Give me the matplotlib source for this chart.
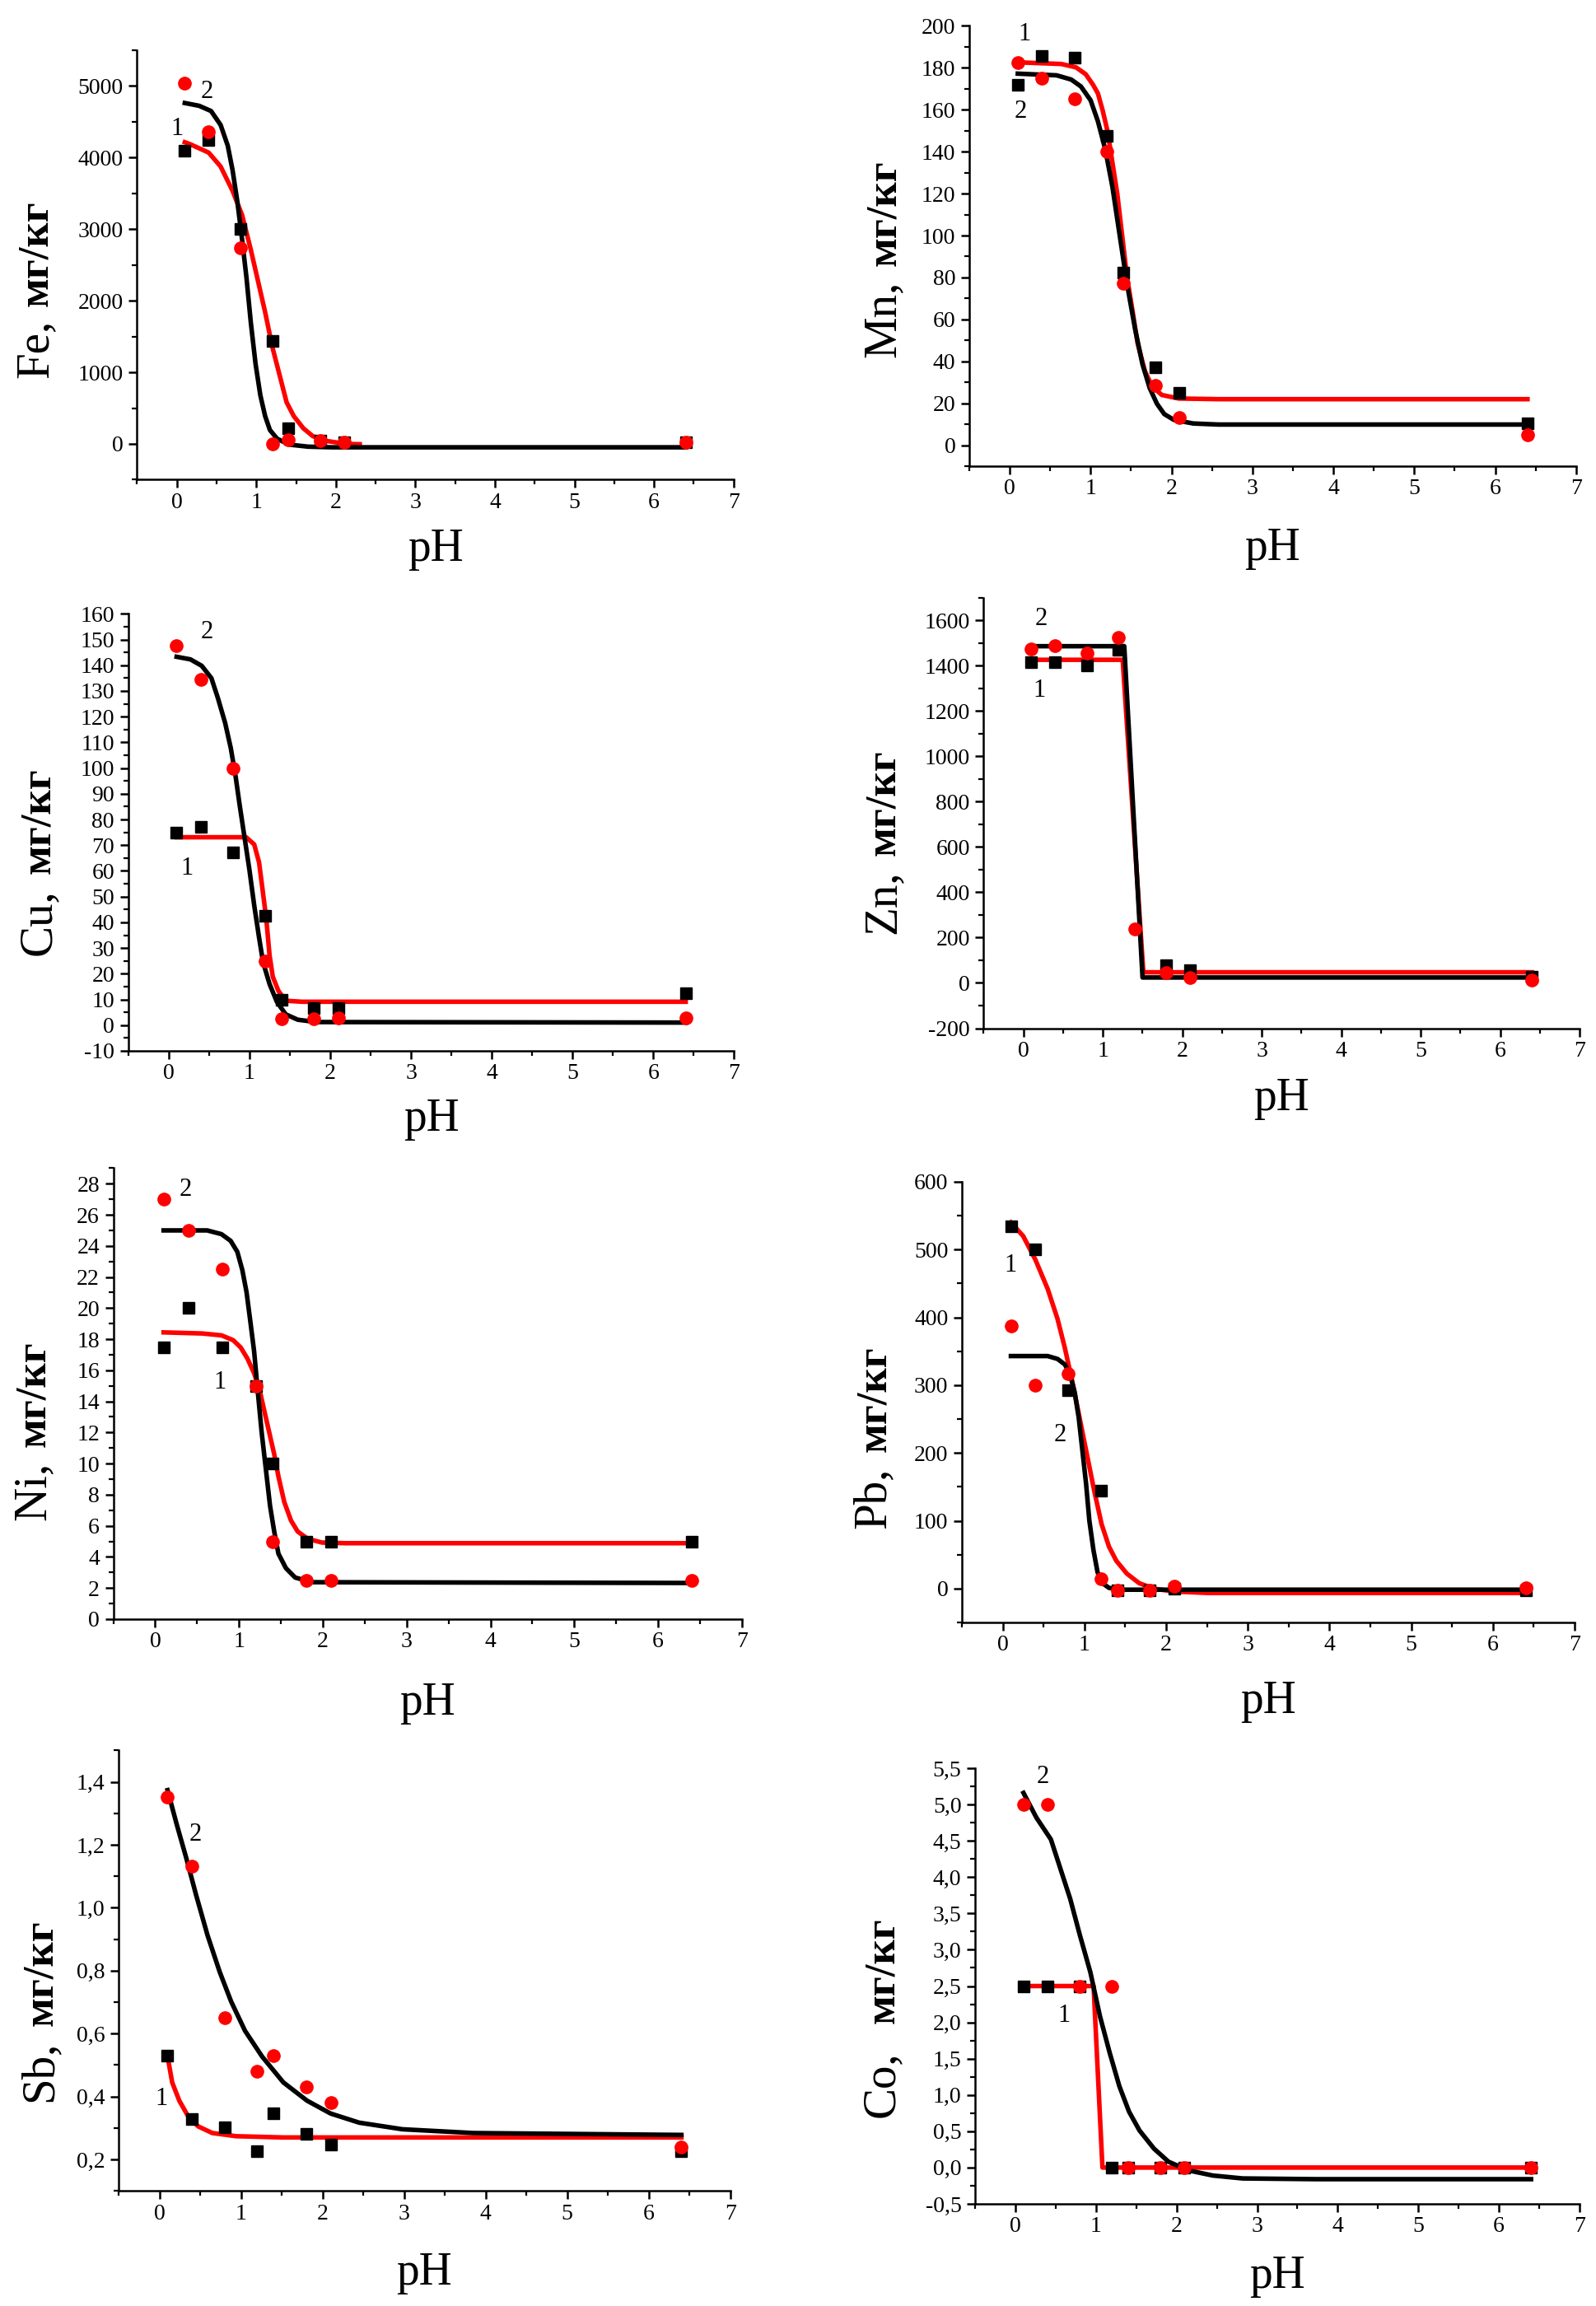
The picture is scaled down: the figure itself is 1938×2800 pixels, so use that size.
""" Metal content in soil vs pH, 8 panels (Fe, Mn, Cu, Zn, Ni, Pb, Sb, Co)
"""
import numpy as np
import matplotlib
matplotlib.use("Agg")
import matplotlib.pyplot as plt
from matplotlib.ticker import MultipleLocator, FuncFormatter
from matplotlib.transforms import offset_copy

plt.rcParams['font.family'] = ['Liberation Serif', 'DejaVu Serif']

# common pH values of the measured points
ph = [0.1, 0.4, 0.8, 1.2, 1.4, 1.8, 2.1, 6.4]

# ---- Fe ----
fe_1 = [4100, 4250, 3000, 1440, 220, 40, 25, 25]
fe_2 = [5040, 4360, 2740, 0, 60, 50, 25, 25]
fe_fit1_x = [0.1, 0.16, 0.40, 0.55, 0.70, 0.82, 0.93, 1.02, 1.11, 1.20, 1.29, 1.38, 1.47, 1.59, 1.71, 1.89, 2.13, 2.30]
fe_fit1_y = [4215, 4191, 4070, 3876, 3537, 3198, 2713, 2277, 1841, 1357, 969, 581, 388, 218, 107, 39, 0, -5]
fe_fit2_x = [0.1, 0.28, 0.43, 0.55, 0.64, 0.70, 0.76, 0.82, 0.875, 0.93, 0.99, 1.05, 1.11, 1.17, 1.26, 1.41, 1.65, 1.95, 6.4]
fe_fit2_y = [4763, 4724, 4651, 4457, 4167, 3828, 3391, 2858, 2326, 1696, 1114, 678, 388, 194, 73, -10, -39, -48, -48]

# ---- Mn ----
mn_1 = [172, 185.6, 184.8, 147.4, 82.3, 37.2, 25.1, 10.4]
mn_2 = [182.6, 174.9, 165, 140.2, 77.4, 28.6, 13.2, 5]
mn_fit1_x = [0.1, 0.64, 0.82, 0.94, 1.03, 1.09, 1.15, 1.21, 1.27, 1.33, 1.39, 1.45, 1.52, 1.58, 1.67, 1.76, 1.88, 2.09, 2.58, 6.4]
mn_fit1_y = [182.6, 181.8, 180.2, 176.9, 171.9, 167.8, 159.5, 149.6, 134.7, 119.8, 100, 80.2, 63.6, 48.8, 35.5, 28.1, 24, 22.3, 22, 22]
mn_fit2_x = [0.1, 0.58, 0.76, 0.88, 1.00, 1.09, 1.18, 1.27, 1.36, 1.45, 1.55, 1.64, 1.73, 1.82, 1.91, 2.03, 2.27, 2.58, 6.4]
mn_fit2_y = [177.2, 176.4, 174.4, 171.1, 164.5, 154.5, 141.3, 123.1, 100, 76.9, 55.4, 38.8, 27.3, 19.8, 14.9, 12.1, 10.4, 9.9, 9.9]

# ---- Cu ----
cu_1 = [74.9, 77.2, 67.2, 42.4, 9.7, 6.7, 6.7, 12.5]
cu_2 = [147.5, 134.6, 99.9, 25, 2.5, 2.5, 2.8, 2.8]
cu_fit1_x = [0.1, 0.96, 1.06, 1.12, 1.16, 1.21, 1.25, 1.29, 1.36, 1.45, 1.65, 6.4]
cu_fit1_y = [73.1, 73.1, 70.3, 63.3, 53.6, 41.1, 27.2, 18.8, 13.3, 9.5, 9.1, 9.1]
cu_fit2_x = [0.1, 0.27, 0.41, 0.53, 0.61, 0.70, 0.77, 0.83, 0.88, 0.94, 1.00, 1.06, 1.12, 1.17, 1.25, 1.34, 1.45, 1.60, 1.83, 6.4]
cu_fit2_y = [143.3, 142.3, 139.8, 135, 127.3, 117.6, 107.8, 96.7, 85.6, 73.1, 60.6, 46.6, 34.1, 24.4, 16, 9.1, 4.2, 2.1, 1.2, 1.0]

# ---- Zn ----
zn_1 = [1415, 1415, 1400, 1470, np.nan, 79, 55, 27]
zn_2 = [1474, 1490, 1455, 1526, 237, 47, 24, 11]
zn_fit1_x = [0.1, 1.25, 1.51, 6.4]
zn_fit1_y = [1426, 1426, 47, 47]
zn_fit2_x = [0.1, 1.27, 1.50, 6.4]
zn_fit2_y = [1486, 1486, 24, 24]

# ---- Ni ----
ni_1 = [17.5, 20, 17.5, 15, 10, 5, 5, 5]
ni_2 = [27, 25, 22.5, 15, 5, 2.5, 2.5, 2.5]
ni_fit1_x = [0.1, 0.56, 0.79, 0.93, 1.02, 1.10, 1.18, 1.25, 1.30, 1.36, 1.42, 1.47, 1.54, 1.62, 1.70, 1.82, 1.99, 2.27, 6.4]
ni_fit1_y = [18.44, 18.37, 18.25, 17.94, 17.47, 16.76, 15.81, 14.63, 13.44, 12.02, 10.60, 9.18, 7.53, 6.34, 5.63, 5.16, 4.92, 4.88, 4.88]
ni_fit2_x = [0.1, 0.62, 0.79, 0.90, 0.98, 1.04, 1.09, 1.13, 1.18, 1.22, 1.27, 1.32, 1.37, 1.42, 1.47, 1.56, 1.67, 1.87, 6.4]
ni_fit2_y = [25.0, 25.0, 24.76, 24.33, 23.62, 22.44, 21.02, 19.36, 17.23, 14.86, 12.02, 9.66, 7.29, 5.63, 4.21, 3.27, 2.67, 2.37, 2.32]

# ---- Pb ----
pb_1 = [534, 500, 293, 144, -3, -3, 0, -2]
pb_2 = [388, 300, 317, 15, -2, -3, 3, 1]
pb_fit1_x = [0.1, 0.25, 0.40, 0.55, 0.67, 0.76, 0.85, 0.94, 1.03, 1.12, 1.21, 1.30, 1.39, 1.52, 1.67, 1.85, 2.09, 2.52, 6.4]
pb_fit1_y = [540, 520, 485, 442, 398, 355, 306, 252, 198, 144, 95, 62, 41, 22, 8, 0, -4.3, -6.5, -6.5]
pb_fit2_x = [0.1, 0.55, 0.67, 0.76, 0.82, 0.88, 0.93, 0.97, 1.02, 1.06, 1.11, 1.16, 1.22, 1.30, 1.42, 6.4]
pb_fit2_y = [343, 343, 338.8, 330.6, 317, 290, 252, 208.7, 154.5, 100.3, 57, 24.4, 8.1, 1.1, -1.6, -1.6]

# ---- Sb ----
sb_1 = [0.529, 0.328, 0.303, 0.226, 0.348, 0.282, 0.247, 0.226]
sb_2 = [1.353, 1.131, 0.65, 0.48, 0.53, 0.43, 0.381, 0.239]
sb_fit1_x = [0.1, 0.157, 0.244, 0.36, 0.477, 0.65, 0.94, 1.52, 6.4]
sb_fit1_y = [0.529, 0.445, 0.387, 0.334, 0.305, 0.284, 0.274, 0.27, 0.27]
sb_fit2_x = [0.1, 0.215, 0.33, 0.45, 0.59, 0.74, 0.88, 1.05, 1.26, 1.52, 1.81, 2.10, 2.45, 2.98, 3.85, 6.4]
sb_fit2_y = [1.374, 1.263, 1.158, 1.041, 0.913, 0.796, 0.702, 0.609, 0.527, 0.445, 0.387, 0.346, 0.317, 0.296, 0.284, 0.278]

# ---- Co ----
co_1 = [2.5, 2.5, 2.5, 0, 0, 0, 0, 0]
co_2 = [5.0, 5.0, 2.5, 2.5, 0, 0, 0, 0]
co_fit1_x = [0.1, 0.97, 1.08, 6.4]
co_fit1_y = [2.5, 2.5, 0.0, 0.0]
co_fit2_x = [0.1, 0.26, 0.44, 0.56, 0.68, 0.80, 0.93, 1.05, 1.17, 1.29, 1.41, 1.54, 1.72, 1.90, 2.15, 2.45, 2.82, 3.73, 6.4]
co_fit2_y = [5.16, 4.82, 4.52, 4.11, 3.70, 3.20, 2.69, 2.08, 1.58, 1.12, 0.77, 0.51, 0.26, 0.08, -0.04, -0.11, -0.15, -0.16, -0.16]


def int_fmt(v, pos):
    return f"{v:.0f}"


def comma_fmt(v, pos):
    if abs(v) < 1e-9:
        v = 0.0
    return f"{v:.1f}".replace(".", ",")


# element, data, axes rect, ylim, major, minor, formatter,
# ylabel baseline offset (px), element end / unit start (data), pH label pad, curve labels
panels = [
    dict(el="Fe,", s1=fe_1, s2=fe_2, f1=(fe_fit1_x, fe_fit1_y), f2=(fe_fit2_x, fe_fit2_y),
         rect=[0.0859, 0.792, 0.3737, 0.1862], ylim=(-500, 5500), major=1000, minor=500,
         fmt=int_fmt, lab_dx=-109, split=(1740, 1920), xpad=13.5, l1=(0.0, 4400), l2=(0.38, 4920)),
    dict(el="Mn,", s1=mn_1, s2=mn_2, f1=(mn_fit1_x, mn_fit1_y), f2=(mn_fit2_x, mn_fit2_y),
         rect=[0.6073, 0.7978, 0.3802, 0.1910], ylim=(-10, 200), major=20, minor=10,
         fmt=int_fmt, lab_dx=-90, split=(78.5, 85.5), xpad=24, l1=(0.18, 196), l2=(0.13, 159)),
    dict(el="Cu,", s1=cu_1, s2=cu_2, f1=(cu_fit1_x, cu_fit1_y), f2=(cu_fit2_x, cu_fit2_y),
         rect=[0.0803, 0.5443, 0.3797, 0.1895], ylim=(-10, 160), major=10, minor=5,
         fmt=int_fmt, lab_dx=-95, split=(53, 59), xpad=12, l1=(0.23, 61), l2=(0.47, 153)),
    dict(el="Zn,", s1=zn_1, s2=zn_2, f1=(zn_fit1_x, zn_fit1_y), f2=(zn_fit2_x, zn_fit2_y),
         rect=[0.6163, 0.5541, 0.3734, 0.1867], ylim=(-200, 1700), major=200, minor=100,
         fmt=int_fmt, lab_dx=-108, split=(498, 563), xpad=14, l1=(0.2, 1289), l2=(0.22, 1605)),
    dict(el="Ni,", s1=ni_1, s2=ni_2, f1=(ni_fit1_x, ni_fit1_y), f2=(ni_fit2_x, ni_fit2_y),
         rect=[0.0710, 0.2979, 0.3938, 0.1955], ylim=(0, 29), major=2, minor=1,
         fmt=int_fmt, lab_dx=-83, split=(10.1, 11.05), xpad=26, l1=(0.77, 15.2), l2=(0.36, 27.6)),
    dict(el="Pb,", s1=pb_1, s2=pb_2, f1=(pb_fit1_x, pb_fit1_y), f2=(pb_fit2_x, pb_fit2_y),
         rect=[0.6027, 0.2964, 0.3839, 0.1911], ylim=(-50, 600), major=100, minor=50,
         fmt=int_fmt, lab_dx=-93, split=(179, 201), xpad=21, l1=(0.09, 477), l2=(0.7, 227)),
    dict(el="Sb,", s1=sb_1, s2=sb_2, f1=(sb_fit1_x, sb_fit1_y), f2=(sb_fit2_x, sb_fit2_y),
         rect=[0.0743, 0.0499, 0.3833, 0.1910], ylim=(0.1, 1.5), major=0.2, minor=0.1,
         fmt=comma_fmt, lab_dx=-81, split=(0.577, 0.624), xpad=24, l1=(0.03, 0.393), l2=(0.44, 1.234)),
    dict(el="Co,", s1=co_1, s2=co_2, f1=(co_fit1_x, co_fit1_y), f2=(co_fit2_x, co_fit2_y),
         rect=[0.6110, 0.0443, 0.3786, 0.1889], ylim=(-0.5, 5.5), major=0.5, minor=0.25,
         fmt=comma_fmt, lab_dx=-99, split=(1.61, 1.98), xpad=15.5, l1=(0.6, 2.09), l2=(0.34, 5.38)),
]


def main() -> None:
    """Draws all panels and saves out.png"""
    fig = plt.figure(figsize=(19.38, 28.0), dpi=100)

    for p in panels:
        ax = fig.add_axes(p["rect"])

        ax.plot(p["f1"][0], p["f1"][1], color="red", lw=4, zorder=2)
        ax.plot(p["f2"][0], p["f2"][1], color="black", lw=4, zorder=3)
        ax.plot(ph, p["s1"], ls="none", marker="s", ms=10, color="black", zorder=4)
        ax.plot(ph, p["s2"], ls="none", marker="o", ms=11, color="red", zorder=5)

        ax.set_xlim(-0.5, 7)
        ax.set_ylim(*p["ylim"])
        ax.xaxis.set_major_locator(MultipleLocator(1))
        ax.xaxis.set_minor_locator(MultipleLocator(0.5))
        ax.yaxis.set_major_locator(MultipleLocator(p["major"]))
        ax.yaxis.set_minor_locator(MultipleLocator(p["minor"]))
        ax.yaxis.set_major_formatter(FuncFormatter(p["fmt"]))

        ax.spines["top"].set_visible(False)
        ax.spines["right"].set_visible(False)
        for side in ("left", "bottom"):
            ax.spines[side].set_linewidth(1.8)
        ax.tick_params(which="major", direction="out", length=7.5, width=1.8,
                       labelsize=20)
        ax.tick_params(which="minor", direction="out", length=4, width=1.6)
        ax.tick_params(axis="y", which="major", pad=4.5)
        ax.tick_params(axis="x", which="major", pad=3.5)

        ax.set_xlabel("pH", fontsize=40, labelpad=p["xpad"])

        # y label: element in regular, units in bold
        trans = ax.get_yaxis_transform()
        t_el = offset_copy(trans, fig=fig, x=p["lab_dx"], y=0, units="dots")
        ax.text(0, p["split"][0], p["el"], transform=t_el, rotation=90,
                rotation_mode="anchor", ha="right", va="baseline", fontsize=41)
        ax.text(0, p["split"][1], "мг/кг", transform=t_el, rotation=90,
                rotation_mode="anchor", ha="left", va="baseline", fontsize=38,
                fontweight="bold")

        ax.text(p["l1"][0], p["l1"][1], "1", fontsize=22, ha="center", va="center")
        ax.text(p["l2"][0], p["l2"][1], "2", fontsize=22, ha="center", va="center")

    fig.savefig("out.png", dpi=100)
    plt.close(fig)


if __name__ == "__main__":
    main()
